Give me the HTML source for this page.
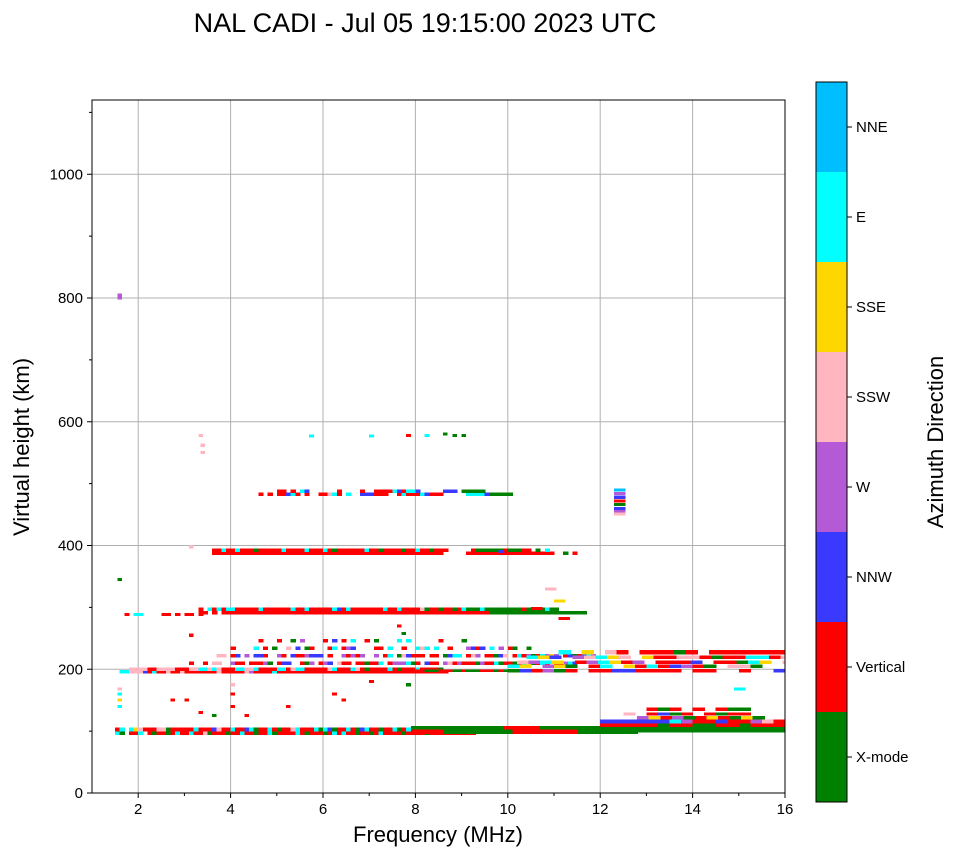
<!DOCTYPE html>
<html><head><meta charset="utf-8"><style>
body{margin:0;background:#fff;font-family:"Liberation Sans",sans-serif;}
svg text{font-family:"Liberation Sans",sans-serif;}
#marks rect{shape-rendering:crispEdges;}
</style></head><body>
<svg id="c" width="958" height="857" xmlns="http://www.w3.org/2000/svg">
<text x="425" y="32" font-size="27" text-anchor="middle">NAL CADI - Jul 05 19:15:00 2023 UTC</text>
<g id="grid"></g><g id="marks"></g><g id="axes"></g><g id="cbar"></g>
</svg>
<script>
const dirNames=["X-mode","Vertical","NNW","W","SSW","SSE","E","NNE"];
const dirColors=["#008000","#ff0000","#3a3aff","#b55ad6","#ffb6c1","#ffd700","#00ffff","#00bfff"];
const codeKeys="grbwpycn";
const xTicks=[2,4,6,8,10,12,14,16];
const yTicks=[0,200,400,600,800,1000];
// echo rows: start freq, freq step, height (km), thickness (km), direction codes
const rowFreq0=[1.5,1.5,8.0,7.9,12.0,12.0,12.0,12.3,12.5,13.0,
 1.6,1.6,8.0,3.0,3.5,4.0,4.5,10.0,10.0,10.2,10.4,10.6,
 1.7,3.3,3.3,3.6,3.6,4.6,4.6];
const rowStep=[0.1,0.1,0.1,0.2,0.25,0.25,0.25,0.25,0.25,0.25,
 0.1,0.1,0.1,0.1,0.1,0.1,0.1,0.25,0.25,0.25,0.25,0.25,
 0.1,0.1,0.1,0.1,0.1,0.1,0.1];
const rowHeight=[97,103,100,106,103,110,116,122,128,136,
 196,200,198,210,222,234,246,198,205,212,220,228,
 289,292,297,388,393,483,488];
const rowThick=[6,6,8,5,9,6,6,5,5,5,
 5,5,4,5,5,5,5,5,5,5,5,7,
 4,5,5,5,5,5,5];
const rowCodes=[
"cg.rrc.rgrrgrcrrcrrpgrrrgrrcrrgrrcgrrrrcrgrrrgrcrcrrgrrgrcrrrrgrrrrgrrrrrrrrrr",
"rc.cyprrrppgrrrrrcrrrbprrcrrbcgrrcrgrrpcrrrcgcbgrrcrgbcrrgrrcgrcrrwrrgrcrrrr",
"rrrrrrgggggggggggggggrrrrrrrrrrrrrrggggggggggggg",
"ggggggggggrrrrgggggggg",
"gggggggggggggggg",
"rrrrrgrrggrrgrrr",
"bbbbbbcwrrbrrwpr",
"..wyrwgryrgyg",
"p.rbgr.rgrr",
"rgr.r.rgg",
"ccpppbrcrrprrprrrrrrrprrrrrpwrrrrcrrrrrrrrrrrrrrrrrrrrrrrrrrrrrrrrrrrrr",
"..pppprrpppprrrppccpcprrrccppcrrrrccrpccrrrrrpcrrrcprgrrrrcrgrrrcrrrrg",
"rrgggrrrggrgggrrrgrgggg",
".r..r.pp..wrr.rrrwg.rbb..rgw.rwb.prr.rrgrrc.rwwwcgr.brr.wprwrrrgwrrcgrrgrcygrcr.rrwcb",
"..pp.rb.w.bbr..wr.brrwbbb.r..wrwrw..w.rc.gpbrrr.rr.gbcc.rpw.rrgbp.rcrwgrcwyw.rbgrbcw",
"r....c.r.g..p.b.gr...rc.rwb....rr.c..r..cpc.c..r...wbrb.c.w.rg..g",
".r...r..g.w....r.b.r.c..r.g....c.c......r....g",
"gbrwgr.rrbbrrrr.rr..r..b.",
"cy.wyg.rc.yrcrbwrg.ppg...",
"pwcy.rwcyrw.rrrb.rrgcy.p",
"cyb.wpcyp.yrrpprgrrccrpr",
"..c.y.pr.rrrgr.rrrrrrrrrr",
"r.cc....rr.r.rr.r",
"rr.r.rrrrrrrrrrrrrrrrrrrrrrrrrrrrrrrrrrrrrrrrrrrrrrrrrrrrrrrrrrggggggggggggggggggggg",
"r.crcrccrrrrrcrrrrrrcrrcrrrrrcbrcrrrrrrrcrrcrrrrpgrrgrrgrcgggcggggggggrggggcgg",
"rrrrrrrrrrrrrrrrrrrrrrrrrrrrrrrrrrrrrrrrrrrrrrrrrr.....rrrrrrrrrrrrrrrrrrr..g.r",
"rrcrrcrrrgrrrrrcrrrrcrrrcrgrrrrrrcrrgrrrrgrrcrrgrrr.....rggggggrgggrr.g.c",
"r.r.rrbcr.r..rrpcr.c..bbbrrr..rcrrrcbrrr.....ccccbggggg",
"....rr.r.cb......r....r..rrrrcbrccb.....bbb.ggggg"];
// isolated echoes
const ptFreq=[1.55,1.55,1.55,1.55,1.55,1.55,3.3,3.35,3.35,3.1,1.55,5.7,7.0,7.8,8.2,8.6,8.8,9.0,12.3,12.3,12.3,12.3,12.3,12.3,12.3,12.3,
 4.0,4.0,4.0,3.3,3.6,4.3,5.2,6.2,6.4,7.0,7.8,7.6,2.7,3.0,14.9,10.8,11.0,11.1,9.8,10.5,3.1,7.7];
const ptHeight=[805,800,168,160,150,140,578,562,550,398,345,577,577,578,578,580,578,578,490,484,478,472,466,460,455,451,
 175,160,140,130,125,125,140,160,150,180,175,270,150,150,168,330,310,282,390,298,255,258];
const ptCode="wwpcycpppp gccrcgggnwbrgbwpprrrgrrrrrgrrrcpyrbrrgr".replace(/ /g,"");
const ns="http://www.w3.org/2000/svg";
const L=92,R=785,T=100,B=793,fMin=1,fMax=16,hMin=0,hMax=1120;
const xs=f=>L+(f-fMin)/(fMax-fMin)*(R-L);
const ys=h=>B-(h-hMin)/(hMax-hMin)*(B-T);
function mk(tag,attrs,parent){const e=document.createElementNS(ns,tag);for(const k in attrs)e.setAttribute(k,attrs[k]);parent.appendChild(e);return e;}
const grid=document.getElementById('grid'),marks=document.getElementById('marks'),axes=document.getElementById('axes'),cb=document.getElementById('cbar');
xTicks.forEach(t=>{const l=mk('line',{x1:xs(t),x2:xs(t),y1:T,y2:B,stroke:'#b0b0b0','stroke-width':1},grid);

});
yTicks.forEach(t=>{const l=mk('line',{x1:L,x2:R,y1:ys(t),y2:ys(t),stroke:'#b0b0b0','stroke-width':1},grid);

});
for(let i=0;i<rowFreq0.length;i++){
 const s=rowCodes[i];
 for(let j=0;j<s.length;j++){const k=codeKeys.indexOf(s[j]);if(k<0)continue;
  const f=rowFreq0[i]+j*rowStep[i];if(f>=fMax)continue;
  const x0=xs(f),x1=Math.min(xs(f+rowStep[i])+0.6,R);
  const r=mk('rect',{x:x0,y:ys(rowHeight[i]+rowThick[i]/2),width:x1-x0,height:ys(rowHeight[i]-rowThick[i]/2)-ys(rowHeight[i]+rowThick[i]/2)+0.4,fill:dirColors[k]},marks);
  
  }
}
for(let i=0;i<ptFreq.length;i++){const k=codeKeys.indexOf(ptCode[i]);if(k<0)continue;
 const w=ptFreq[i]>10?0.25:0.1;
 const r=mk('rect',{x:xs(ptFreq[i]),y:ys(ptHeight[i]+2.5),width:xs(ptFreq[i]+w)-xs(ptFreq[i]),height:ys(ptHeight[i]-2.5)-ys(ptHeight[i]+2.5),fill:dirColors[k]},marks);
 
 }
const fr=mk('rect',{x:L,y:T,width:R-L,height:B-T,fill:'none',stroke:'#000','stroke-width':1},axes);


for(let f=2;f<=16;f++){const big=f%2==0;mk('line',{x1:xs(f),x2:xs(f),y1:B,y2:B+(big?5:3),stroke:'#000'},axes);
 if(big){const t=mk('text',{x:xs(f),y:B+21,'font-size':15,'text-anchor':'middle'},axes);t.textContent=f;
 
 }}
for(let h=0;h<=1100;h+=100){const big=h%200==0;mk('line',{x1:L,x2:L-(big?5:3),y1:ys(h),y2:ys(h),stroke:'#000'},axes);
 if(big){const t=mk('text',{x:L-9,y:ys(h)+5,'font-size':15,'text-anchor':'end'},axes);t.textContent=h;
 
 }}
let t=mk('text',{x:438,y:842,'font-size':22,'text-anchor':'middle'},axes);t.textContent='Frequency (MHz)';


t=mk('text',{x:0,y:0,'font-size':22,'text-anchor':'middle',transform:'translate(29,447) rotate(-90)'},axes);t.textContent='Virtual height (km)';


const cT=82,cB=802,cL=816,cW=31,seg=(cB-cT)/8;
for(let k=0;k<8;k++){const y=cB-(k+1)*seg;
 const r=mk('rect',{x:cL,y:y,width:cW,height:seg,fill:dirColors[k]},cb);
 
 
 mk('line',{x1:cL+cW,x2:cL+cW+5,y1:y+seg/2,y2:y+seg/2,stroke:'#000'},cb);
 const tx=mk('text',{x:cL+cW+9,y:y+seg/2+5,'font-size':15},cb);tx.textContent=dirNames[k];
 
 }
const cf=mk('rect',{x:cL,y:cT,width:cW,height:cB-cT,fill:'none',stroke:'#000'},cb);


t=mk('text',{x:0,y:0,'font-size':22,'text-anchor':'middle',transform:'translate(943,442) rotate(-90)'},cb);t.textContent='Azimuth Direction';


</script>
</body></html>
